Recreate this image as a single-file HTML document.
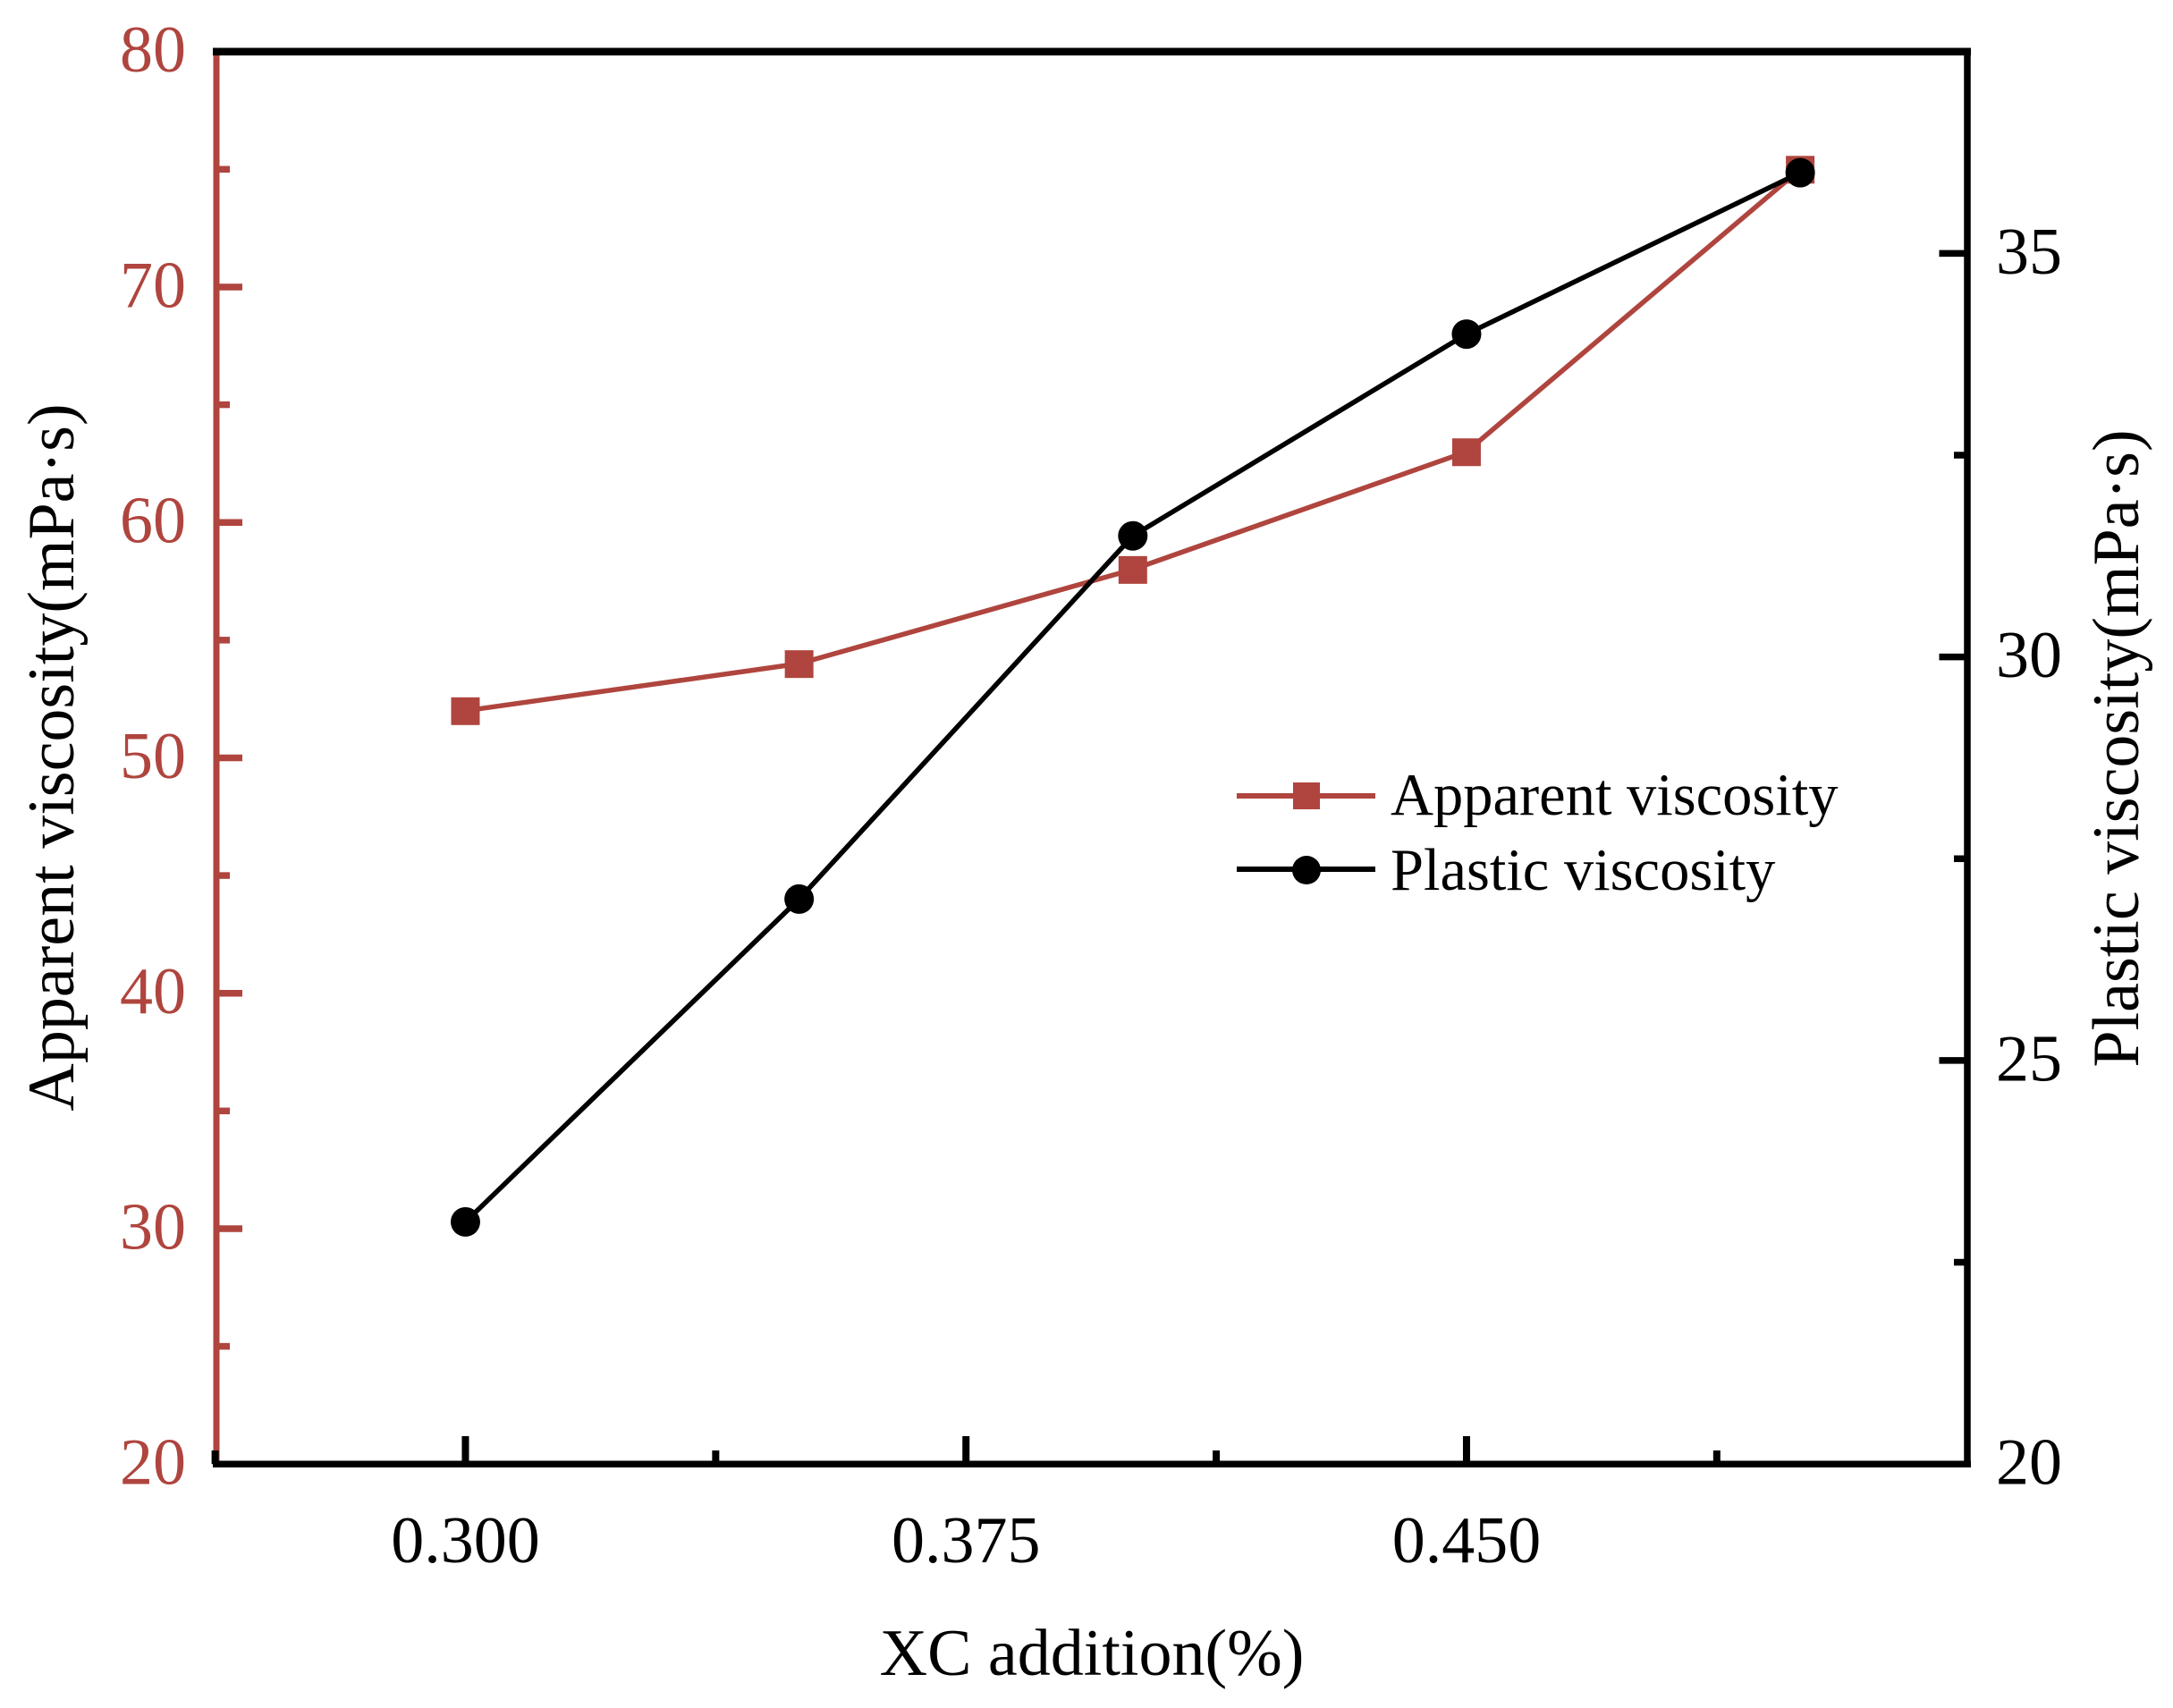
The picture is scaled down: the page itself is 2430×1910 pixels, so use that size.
<!DOCTYPE html>
<html lang="en">
<head>
<meta charset="utf-8">
<title>XC addition vs viscosity</title>
<style>
html,body{margin:0;padding:0;background:#fff;width:2430px;height:1910px;overflow:hidden}
svg{display:block}
text{font-family:"Liberation Serif",serif;font-size:74px}
</style>
</head>
<body>
<svg id="chart" xmlns="http://www.w3.org/2000/svg" width="2430" height="1910" viewBox="0 0 2430 1910">
  <rect x="0" y="0" width="2430" height="1910" fill="#ffffff"/>
  <g id="axes-under"></g>
  <g id="series"></g>
  <g id="axes-over"></g>
  <text transform="translate(82 847) rotate(-90)" text-anchor="middle" fill="#000">Apparent viscosity(mPa·s)</text>
  <text transform="translate(2391 837) rotate(-90)" text-anchor="middle" fill="#000">Plastic viscosity(mPa·s)</text>
  <text x="1221" y="1873" text-anchor="middle" fill="#000">XC addition(%)</text>
  <g>
    <g>
      <line x1="1383" y1="890" x2="1538" y2="890" stroke="#af453e" stroke-width="6"/>
      <rect x="1446" y="875" width="30" height="30" fill="#af453e"/>
      <text x="1555" y="911" style="font-size:66.5px" fill="#000">Apparent viscosity</text>
    </g>
    <g>
      <line x1="1383" y1="972" x2="1538" y2="972" stroke="#000" stroke-width="6"/>
      <circle cx="1461" cy="973" r="16" fill="#000"/>
      <text x="1555" y="995" style="font-size:66.5px" fill="#000">Plastic viscosity</text>
    </g>
  </g>
</svg>
<script>
const xValues = [0.3, 0.35, 0.4, 0.45, 0.5];
const apparentViscosity = [52, 54, 58, 63, 75];
const plasticViscosity = [23, 27, 31.5, 34, 36];
const xMajorTicks = [0.3, 0.375, 0.45];
const xMinorTicks = [0.2625, 0.3375, 0.4125, 0.4875];
const xTickLabels = ["0.300", "0.375", "0.450"];
const leftMajorTicks = [30, 40, 50, 60, 70];
const leftMinorTicks = [25, 35, 45, 55, 65, 75];
const leftTickLabels = ["20", "30", "40", "50", "60", "70", "80"];
const leftLabelValues = [20, 30, 40, 50, 60, 70, 80];
const rightMajorTicks = [25, 30, 35];
const rightMinorTicks = [22.5, 27.5, 32.5];
const rightTickLabels = ["20", "25", "30", "35"];
const rightLabelValues = [20, 25, 30, 35];

const RED = '#af453e';
const BLACK = '#000000';
const plot = { left: 240.6, right: 2199.7, top: 57.7, bottom: 1637.2 };
const xDomain = [0.2625, 0.525];
const leftDomain = [20, 80];
const rightDomain = [20, 37.5];

function sx(v) { return plot.left + (v - xDomain[0]) / (xDomain[1] - xDomain[0]) * (plot.right - plot.left); }
function syLeft(v) { return plot.bottom - (v - leftDomain[0]) / (leftDomain[1] - leftDomain[0]) * (plot.bottom - plot.top); }
function syRight(v) { return plot.bottom - (v - rightDomain[0]) / (rightDomain[1] - rightDomain[0]) * (plot.bottom - plot.top); }

const NS = 'http://www.w3.org/2000/svg';
function make(parent, tag, attrs) {
  const el = document.createElementNS(NS, tag);
  for (const k in attrs) el.setAttribute(k, attrs[k]);
  parent.appendChild(el);
  return el;
}
const under = document.getElementById('axes-under');
const over = document.getElementById('axes-over');
const series = document.getElementById('series');

/* left axis (red) */
let el = make(under, 'line', { x1: 242, y1: plot.top, x2: 242, y2: plot.bottom, stroke: RED, 'stroke-width': 7 });


leftMajorTicks.forEach(function (v) {
  const t = make(under, 'line', { x1: 242, y1: syLeft(v), x2: 271, y2: syLeft(v), stroke: RED, 'stroke-width': 7.5 });
  
  
});
leftMinorTicks.forEach(function (v) {
  const t = make(under, 'line', { x1: 242, y1: syLeft(v), x2: 257, y2: syLeft(v), stroke: RED, 'stroke-width': 7.5 });
  
  
});
leftLabelValues.forEach(function (v, i) {
  const t = make(under, 'text', { x: 208, y: syLeft(v) + 22.5, 'text-anchor': 'end', fill: RED });
  t.textContent = leftTickLabels[i];
  
  
});

/* apparent viscosity series */
const appPts = xValues.map(function (x, i) { return sx(x) + ',' + syLeft(apparentViscosity[i]); }).join(' ');
el = make(series, 'polyline', { points: appPts, fill: 'none', stroke: RED, 'stroke-width': 5.5, 'stroke-linejoin': 'round' });


xValues.forEach(function (x, i) {
  const m = make(series, 'rect', { x: sx(x) - 16, y: syLeft(apparentViscosity[i]) - 15, width: 32, height: 31, fill: RED });
  
  
});

/* plastic viscosity series */
const plaPts = xValues.map(function (x, i) { return sx(x) + ',' + syRight(plasticViscosity[i]); }).join(' ');
el = make(series, 'polyline', { points: plaPts, fill: 'none', stroke: BLACK, 'stroke-width': 5.5, 'stroke-linejoin': 'round' });


xValues.forEach(function (x, i) {
  const m = make(series, 'circle', { cx: sx(x), cy: syRight(plasticViscosity[i]), r: 16.5, fill: BLACK });
  
  
});

/* frame */
el = make(over, 'line', { x1: 238, y1: plot.top, x2: 2204, y2: plot.top, stroke: BLACK, 'stroke-width': 8.5 });


el = make(over, 'line', { x1: 238, y1: plot.bottom, x2: 2204, y2: plot.bottom, stroke: BLACK, 'stroke-width': 7.5 });


el = make(over, 'line', { x1: 2200, y1: plot.top, x2: 2200, y2: plot.bottom, stroke: BLACK, 'stroke-width': 7.5 });



/* x ticks */
xMajorTicks.forEach(function (v, i) {
  const t = make(over, 'line', { x1: sx(v), y1: plot.bottom, x2: sx(v), y2: 1606, stroke: BLACK, 'stroke-width': 8 });
  
  
  const l = make(over, 'text', { x: sx(v), y: 1747, 'text-anchor': 'middle', fill: BLACK });
  l.textContent = xTickLabels[i];
  
  
});
xMinorTicks.forEach(function (v) {
  const t = make(over, 'line', { x1: sx(v), y1: plot.bottom, x2: sx(v), y2: 1622, stroke: BLACK, 'stroke-width': 8 });
  
  
});

/* right ticks */
rightMajorTicks.forEach(function (v) {
  const t = make(over, 'line', { x1: 2200, y1: syRight(v), x2: 2168.5, y2: syRight(v), stroke: BLACK, 'stroke-width': 7.5 });
  
  
});
rightMinorTicks.forEach(function (v) {
  const t = make(over, 'line', { x1: 2200, y1: syRight(v), x2: 2185, y2: syRight(v), stroke: BLACK, 'stroke-width': 7.5 });
  
  
});
rightLabelValues.forEach(function (v, i) {
  const t = make(over, 'text', { x: 2232, y: syRight(v) + 22.5, 'text-anchor': 'start', fill: BLACK });
  t.textContent = rightTickLabels[i];
  
  
});
</script>
</body>
</html>
